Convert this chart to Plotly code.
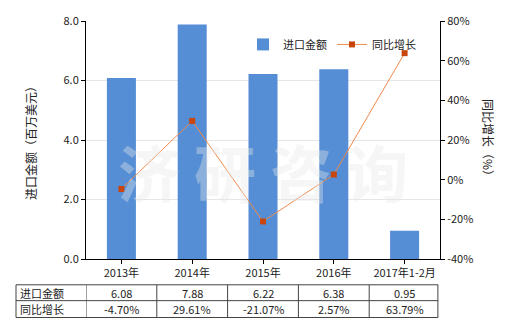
import plotly.graph_objects as go

categories = ["2013年", "2014年", "2015年", "2016年", "2017年1-2月"]
import_values = [6.08, 7.88, 6.22, 6.38, 0.95]
growth_values = [-4.70, 29.61, -21.07, 2.57, 63.79]
import_labels = ["6.08", "7.88", "6.22", "6.38", "0.95"]
growth_labels = ["-4.70%", "29.61%", "-21.07%", "2.57%", "63.79%"]
series_names = ["进口金额", "同比增长"]
left_ticks = [0, 2, 4, 6, 8]
left_ticklabels = ["0.0", "2.0", "4.0", "6.0", "8.0"]
right_ticks = [-40, -20, 0, 20, 40, 60, 80]
right_ticklabels = ["-40%", "-20%", "0%", "20%", "40%", "60%", "80%"]

FONT = "Noto Sans CJK SC"
W, H = 520, 330
L, R, T, B = 86, 80, 19, 71
pw, ph = W - L - R, H - T - B

def px_x(p):
    return (p - L) / pw

def px_y(p):
    return (H - B - p) / ph

fig = go.Figure()
fig.add_trace(go.Bar(
    x=list(range(len(categories))), y=import_values, name=series_names[0],
    marker=dict(color="#558ED5", line=dict(width=0)), width=0.41,
))
fig.add_trace(go.Scatter(
    x=list(range(len(categories))), y=growth_values, name=series_names[1], yaxis="y2",
    mode="lines+markers",
    line=dict(color="#F08A4B", width=1),
    marker=dict(symbol="square", size=6, color="#C8460E"),
))

shapes = []
annotations = []
line_col = "#444444"
y_top, y_mid, y_bot = px_y(285), px_y(301), px_y(318)
x_left = px_x(16)
for yy in (y_top, y_mid, y_bot):
    shapes.append(dict(type="line", xref="paper", yref="paper", x0=x_left, x1=1.0 - 2 / pw,
                       y0=yy, y1=yy, line=dict(color=line_col, width=1)))
shapes.append(dict(type="line", xref="paper", yref="paper", x0=x_left, x1=x_left,
                   y0=y_top, y1=y_bot, line=dict(color=line_col, width=1)))
for i in range(len(categories) + 1):
    xx = i - 0.5 if i < len(categories) else len(categories) - 0.5 - 0.03
    shapes.append(dict(type="line", xref="x", yref="paper", x0=xx, x1=xx,
                       y0=y_top, y1=y_bot, line=dict(color=line_col, width=1)))

for name, yy in ((series_names[0], (y_top + y_mid) / 2), (series_names[1], (y_mid + y_bot) / 2)):
    annotations.append(dict(xref="paper", yref="paper", x=px_x(18), y=yy, text=name,
                            showarrow=False, xanchor="left", yanchor="middle",
                            font=dict(family=FONT, size=11, color="#222")))
for i in range(len(categories)):
    annotations.append(dict(xref="x", yref="paper", x=i, y=(y_top + y_mid) / 2, text=import_labels[i],
                            showarrow=False, yanchor="middle", font=dict(family=FONT, size=11, color="#222")))
    annotations.append(dict(xref="x", yref="paper", x=i, y=(y_mid + y_bot) / 2, text=growth_labels[i],
                            showarrow=False, yanchor="middle", font=dict(family=FONT, size=11, color="#222")))

annotations.append(dict(xref="paper", yref="paper", x=px_x(30), y=0.5, text="进口金额（百万美元）",
                        textangle=-90, showarrow=False, xanchor="center", yanchor="middle",
                        font=dict(family=FONT, size=12, color="#222")))
annotations.append(dict(xref="paper", yref="paper", x=px_x(489), y=0.5, text="同比增长（%）",
                        textangle=90, showarrow=False, xanchor="center", yanchor="middle",
                        font=dict(family=FONT, size=12, color="#222")))
annotations.append(dict(xref="paper", yref="paper", x=0.5, y=px_y(170), text="<b>济 研 咨 询</b>",
                        showarrow=False, xanchor="center", yanchor="middle",
                        font=dict(family=FONT, size=62, color="rgba(232,232,232,0.38)")))

fig.update_layout(
    width=W, height=H,
    margin=dict(l=L, r=R, t=T, b=B),
    paper_bgcolor="white", plot_bgcolor="white",
    font=dict(family=FONT, size=11, color="#222"),
    showlegend=True,
    legend=dict(orientation="h", x=px_x(243), y=px_y(28), xanchor="left", yanchor="top",
                font=dict(family=FONT, size=11, color="#222"), bgcolor="rgba(0,0,0,0)",
                itemwidth=30, tracegroupgap=0),
    xaxis=dict(tickmode="array", tickvals=list(range(len(categories))), ticktext=categories,
               range=[-0.5, len(categories) - 0.5], showline=True, linecolor="#000", linewidth=1,
               ticks="outside", ticklen=4, tickcolor="#000", showgrid=False, zeroline=False,
               tickfont=dict(family=FONT, size=11)),
    yaxis=dict(range=[0, 8], tickmode="array", tickvals=left_ticks, ticktext=left_ticklabels,
               showline=True, linecolor="#000", linewidth=1, ticks="outside", ticklen=4,
               tickcolor="#000", showgrid=True, gridcolor="#e6e6e6", zeroline=False,
               tickfont=dict(family=FONT, size=11)),
    yaxis2=dict(range=[-40, 80], overlaying="y", side="right", tickmode="array",
                tickvals=right_ticks, ticktext=right_ticklabels, showline=True, linecolor="#000",
                linewidth=1, ticks="outside", ticklen=4, tickcolor="#000", showgrid=False,
                zeroline=False, tickfont=dict(family=FONT, size=11)),
    shapes=shapes,
    annotations=annotations,
)

fig.write_html("out.html")
